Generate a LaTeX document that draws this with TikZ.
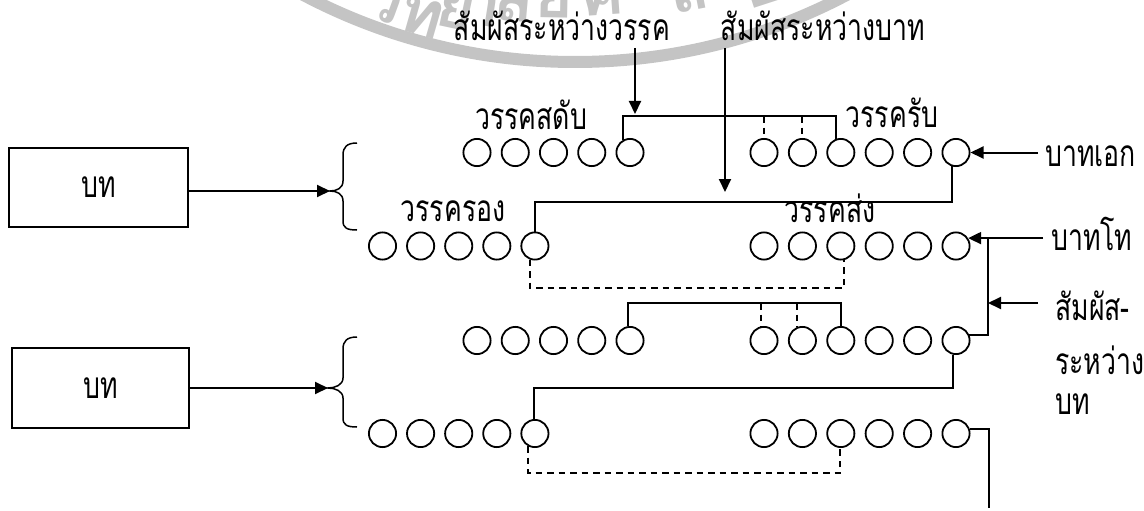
\documentclass[tikz,border=0pt]{standalone}
\usepackage{fontspec}
\newfontfamily\thai[Script=Thai,FakeStretch=0.72]{Loma}
\newfontfamily\thaiwm[Script=Thai]{Loma}
\usetikzlibrary{arrows.meta,calc}
\definecolor{wmgray}{RGB}{196,196,196}
\tikzset{
  dot/.style={circle, draw, line width=1.8pt, minimum size=27.2pt, inner sep=0pt},
  ln/.style={line width=2pt},
  dsh/.style={line width=2pt, dash pattern=on 6.5pt off 5pt},
  arr/.style={line width=2pt, -{Triangle[length=13pt,width=12pt]}},
  brc/.style={line width=1.5pt},
  lbl/.style={font=\thai\fontsize{37}{44}\selectfont, inner sep=0pt},
  bx/.style={draw, line width=1.6pt, inner sep=0pt, font=\thai\fontsize{37}{44}\selectfont},
  wmtext/.style={text=wmgray, inner sep=0pt, anchor=base, font=\thaiwm\bfseries\fontsize{66}{66}\selectfont},
}
\begin{document}
\begin{tikzpicture}[x=1pt,y=-1pt]
\useasboundingbox (0,0) rectangle (1144,511);
% watermark
\begin{scope}
\clip (0,0) rectangle (1144,511);
\draw[wmgray, line width=12pt] (575,-521) circle [radius=583pt];
\foreach \t/\px/\py/\a [count=\k] in {วิ/378/20/-20, ท/416/34/-16, ย/452/29/-12, า/480/25/-9, ลั/513/21/-5, ย/554/18/-1, ศิ/604/15/4, ล/692/11/11, ป/764/5/18}
  \node[wmtext, rotate=\a] (w\k) at (\px,\py) {\t};
\end{scope}
% boxes
\node[bx, minimum width=179pt, minimum height=79pt] (box1) at (98.5,187.5) {บท};
\node[bx, minimum width=177pt, minimum height=80pt] (box2) at (100.5,388) {บท};
% braces
\coordinate (br1) at (330,191);
\coordinate (br2) at (328,388);
\draw[brc] (357,143) .. controls (347,143) and (343,147) .. (343,155) -- (343,181) .. controls (343,188) and (337,191) .. (br1) .. controls (337,191) and (343,194) .. (343,201) -- (343,221) .. controls (343,228) and (347,230) .. (357,230);
\draw[brc] (357,337) .. controls (347,337) and (343,341) .. (343,349) -- (343,378) .. controls (343,385) and (335,388) .. (br2) .. controls (335,388) and (343,391) .. (343,398) -- (343,418) .. controls (343,425) and (347,427) .. (357,427);
\draw[arr] (box1.east |- br1) -- (br1);
\draw[arr] (box2.east |- br2) -- (br2);
% circles
\foreach \i in {1,...,5} {
  \node[dot] (r1l\i) at ({477+38.25*(\i-1)},152.5) {};
  \node[dot] (r2l\i) at ({382.5+38.1*(\i-1)},246) {};
  \node[dot] (r3l\i) at ({477+38.25*(\i-1)},340.5) {};
  \node[dot] (r4l\i) at ({382.5+38.1*(\i-1)},433.5) {};
}
\foreach \i in {1,...,6} {
  \node[dot] (r1r\i) at ({764+38.4*(\i-1)},152.5) {};
  \node[dot] (r2r\i) at ({764+38.4*(\i-1)},246) {};
  \node[dot] (r3r\i) at ({764+38.4*(\i-1)},340.5) {};
  \node[dot] (r4r\i) at ({764+38.4*(\i-1)},433.5) {};
}
% labels
\node[lbl, anchor=base] (ls1) at (562,41) {สัมผัสระหว่างวรรค};
\node[lbl, anchor=base] (ls2) at (823,41) {สัมผัสระหว่างบาท};
\node[lbl, anchor=base] (lsd) at (531,129) {วรรคสดับ};
\node[lbl, anchor=base] (lrb) at (892,128) {วรรครับ};
\node[lbl, anchor=base] (lrg) at (453,221) {วรรครอง};
\node[lbl, anchor=base] (lsg) at (830,222) {วรรคส่ง};
\node[lbl, anchor=base west] (lbe) at (1045,166) {บาทเอก};
\node[lbl, anchor=base west] (lbt) at (1051,250) {บาทโท};
\node[lbl, anchor=base west] (lx1) at (1055,320) {สัมผัส-};
\node[lbl, anchor=base west] (lx2) at (1055,374) {ระหว่าง};
\node[lbl, anchor=base west] (lx3) at (1055,414) {บท};
% coordinates
\coordinate (a1e) at (635,114);
\coordinate (a2e) at (725,192);
\coordinate (t1) at (0,116);
\coordinate (h1) at (0,202);
\coordinate (h2) at (0,288);
\coordinate (t3) at (0,303);
\coordinate (h3) at (0,387.5);
\coordinate (h4) at (0,473);
\coordinate (v1) at (988,0);
\coordinate (sbe) at (1038,0);
\coordinate (sbt) at (1043,0);
\coordinate (sx) at (1038,303);
\coordinate (e4) at (989,508);
% top arrows
\draw[arr] (a1e |- 0,48) -- (a1e);
\draw[arr] (a2e |- 0,48) -- (a2e);
% row 1
\draw[ln] (r1l5.119) |- (r1r3.110 |- t1) -- (r1r3.110);
\draw[dsh] (r1r1.north |- t1) -- (r1r1.north);
\draw[dsh] (r1r2.north |- t1) -- (r1r2.north);
\draw[ln] (r1r6.254) |- (r2l5.north |- h1) -- (r2l5.north);
% row 2
\draw[dsh] (r2l5.250) |- (r2r3.282 |- h2) -- (r2r3.282);
% row 3
\draw[ln] (r3l5.98) |- (r3r3.90 |- t3) -- (r3r3.90);
\draw[dsh] (r3r1.100 |- t3) -- (r3r1.100);
\draw[dsh] (r3r2.112 |- t3) -- (r3r2.112);
\draw[ln] (r3r6.258) |- (r4l5.92 |- h3) -- (r4l5.92);
% row 4
\draw[dsh] (r4l5.241) |- (r4r3.268 |- h4) -- (r4r3.268);
% right side
\draw[arr] (sbe |- r1r6.east) -- (r1r6.east);
\draw[arr] (sbt |- r2r6.33) -- (r2r6.33);
\draw[ln] (r3r6.22) -- (r3r6.22 -| v1) -- (v1 |- r2r6.33);
\draw[arr] (sx) -- (sx -| v1);
\draw[ln] (r4r6.18) -| (e4);
\end{tikzpicture}
\end{document}
